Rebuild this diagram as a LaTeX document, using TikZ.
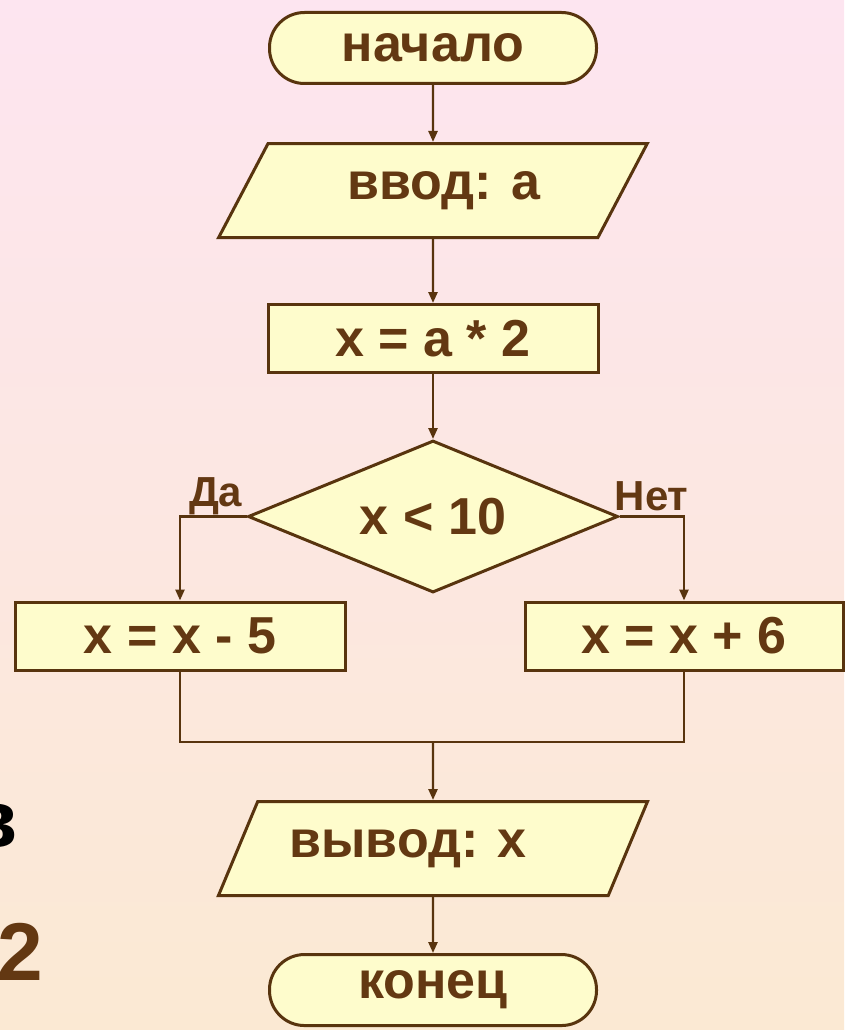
\documentclass[tikz,border=0pt]{standalone}
\usepackage{fontspec}
\setmainfont{Liberation Sans}
\usetikzlibrary{positioning, arrows.meta, shapes.geometric}

\definecolor{bgtop}{RGB}{253,229,240}
\definecolor{bgbot}{RGB}{251,233,211}
\definecolor{boxfill}{RGB}{254,252,204}
\definecolor{brownline}{RGB}{88,52,14}
\definecolor{browntext}{RGB}{99,56,18}

\begin{document}
\begin{tikzpicture}[
    x=1pt, y=-1pt,
    >={Triangle[length=11pt, width=9pt]},
    base/.style={draw=brownline, line width=3pt, fill=boxfill, text=browntext, font=\bfseries\fontsize{52}{58}\selectfont, inner sep=0pt},
    term/.style={base, rectangle, rounded corners=35pt, minimum width=327pt, minimum height=71pt},
    proc/.style={base, rectangle, minimum width=330pt, minimum height=68pt},
    io/.style={base, trapezium, trapezium left angle=50, trapezium right angle=130, trapezium stretches=true, minimum width=430pt, minimum height=94pt},
    cond/.style={base, diamond, aspect=2.4, minimum width=370pt, minimum height=152pt},
    flow/.style={->, draw=brownline, line width=2.4pt},
    link/.style={draw=brownline, line width=2.4pt},
    answer/.style={text=browntext, font=\bfseries\fontsize{42}{46}\selectfont, inner sep=0pt},
    frag/.style={inner sep=0pt, font=\bfseries\fontsize{82}{90}\selectfont}
]

% Background
\shade[top color=bgtop, bottom color=bgbot] (0,0) rectangle (844,1030);
\useasboundingbox (0,0) rectangle (844,1030);

% Flowchart blocks
\node[term] (start) at (433,48) {начало};
\node[io, below=57pt of start] (in) {\hspace*{22pt}ввод: а};
\node[proc, below=64pt of in] (calc) {x = a * 2};
\node[cond, below=65pt of calc] (dec) {x < 10};
\node[proc] (neg) at (180,636) {x = x - 5};
\node[proc, minimum width=318pt] (pos) at (684,636) {x = x + 6};
\coordinate[below=148pt of dec.south] (join);
\node[io, below=58pt of join] (out) {вывод: x\hspace*{50pt}};
\node[term, below=56pt of out] (end) {конец};

% Branch labels
\node[answer, above left=1pt and 4pt of dec.west] (yes) {Да};
\node[answer, above right=5pt and -5pt of dec.east] (no) {Нет};

% Connectors
\draw[flow] (start) -- (in);
\draw[flow] (in) -- (calc);
\draw[flow] (calc) -- (dec);
\draw[flow] (dec.west) -| (neg);
\draw[flow] (dec.east) -| (pos);
\draw[link] (neg) |- (join) -| (pos);
\draw[flow] (join) -- (out);
\draw[flow] (out) -- (end);

% Cut-off text at the left edge
\node[frag, anchor=base east] (fragv) at (18,847) {в};
\node[frag, text=browntext, anchor=base west] (fragtwo) at (-3,980) {2};

\end{tikzpicture}
\end{document}
